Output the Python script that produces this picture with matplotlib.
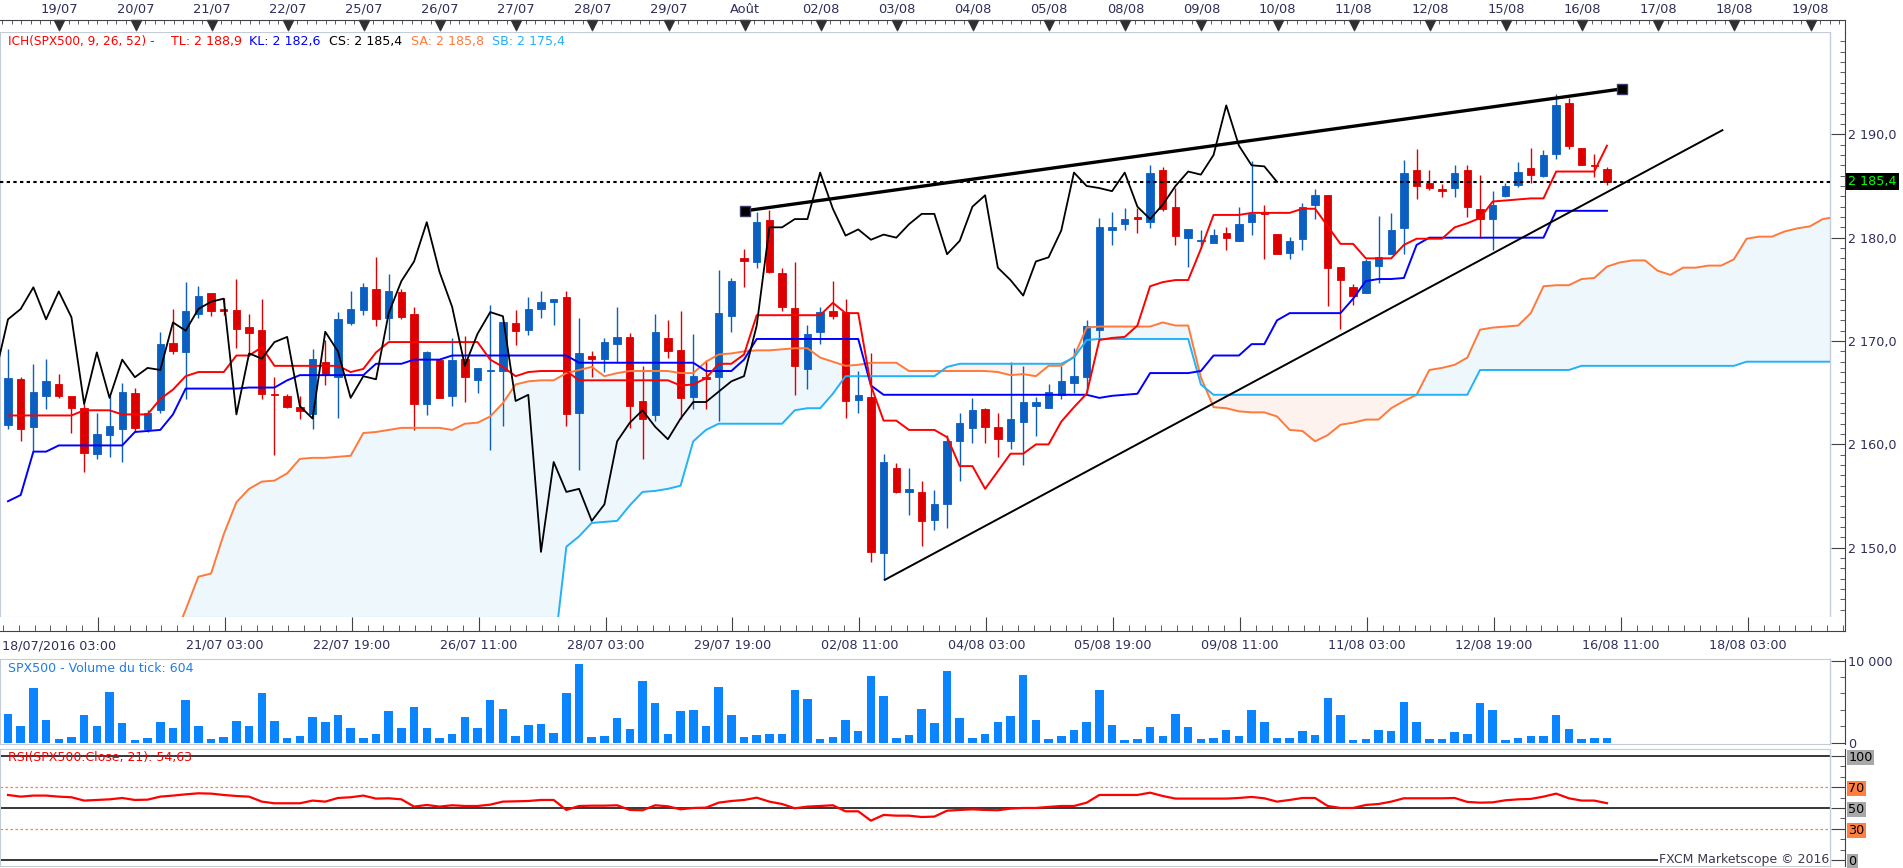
import numpy as np
import matplotlib
matplotlib.use("Agg")
import matplotlib.pyplot as plt
from matplotlib.ticker import MultipleLocator, FixedLocator, FuncFormatter

# SPX500, 4h candles, 18/07 -> 16/08/2016
opens = [2161.9, 2166.3, 2161.7, 2164.7, 2165.8, 2164.7, 2163.5, 2159.1, 2160.9, 2161.5,
         2165.0, 2161.5, 2163.3, 2169.8, 2168.9, 2172.6, 2174.6, 2173.1, 2173.0, 2171.4,
         2171.1, 2164.9, 2164.7, 2163.6, 2162.9, 2168.0, 2166.5, 2171.7, 2173.0, 2175.0,
         2172.2, 2174.7, 2172.6, 2163.9, 2168.2, 2164.7, 2168.3, 2166.2, 2167.1, 2167.1,
         2171.7, 2171.1, 2173.1, 2173.8, 2174.3, 2163.0, 2168.6, 2168.3, 2169.7, 2170.4,
         2164.2, 2162.8, 2170.3, 2169.1, 2164.6, 2166.5, 2166.5, 2172.4, 2178.0, 2177.6,
         2181.7, 2176.6, 2173.2, 2167.3, 2170.9, 2172.9, 2172.8, 2164.3, 2164.6, 2149.5,
         2157.7, 2155.4, 2155.4, 2152.7, 2154.2, 2160.3, 2161.6, 2163.4, 2161.7, 2160.3,
         2162.2, 2163.7, 2163.5, 2164.8, 2165.9, 2166.5, 2171.1, 2180.7, 2181.3, 2182.0,
         2181.5, 2186.5, 2183.0, 2180.0, 2179.7, 2179.5, 2180.5, 2179.7, 2181.5, 2182.4,
         2180.4, 2178.5, 2179.9, 2183.2, 2184.1, 2177.2, 2175.2, 2174.6, 2177.3, 2178.4,
         2180.9, 2186.5, 2185.3, 2184.7, 2184.8, 2186.5, 2182.8, 2181.8, 2184.0, 2185.1,
         2186.7, 2186.0, 2188.1, 2193.0, 2188.7, 2187.0, 2186.6]
highs = [2169.2, 2166.5, 2167.8, 2168.3, 2166.8, 2164.7, 2163.9, 2163.0, 2164.7, 2165.9,
         2165.5, 2163.3, 2170.9, 2173.1, 2175.7, 2175.3, 2174.6, 2174.2, 2176.0, 2172.6,
         2174.1, 2166.5, 2164.9, 2164.7, 2169.2, 2170.1, 2172.8, 2174.8, 2175.6, 2178.1,
         2176.5, 2175.0, 2173.3, 2169.0, 2168.2, 2170.3, 2170.5, 2167.4, 2173.5, 2171.8,
         2173.0, 2174.3, 2174.8, 2174.1, 2174.8, 2172.2, 2169.0, 2170.3, 2173.3, 2170.8,
         2167.6, 2172.6, 2172.0, 2172.9, 2170.7, 2168.2, 2176.9, 2176.1, 2178.9, 2182.5,
         2182.7, 2177.1, 2177.6, 2171.6, 2173.3, 2175.8, 2174.1, 2167.1, 2168.8, 2159.1,
         2158.2, 2157.7, 2156.5, 2155.6, 2160.9, 2163.0, 2164.5, 2163.5, 2163.0, 2168.0,
         2167.6, 2164.6, 2165.8, 2167.6, 2169.3, 2172.0, 2181.9, 2182.5, 2182.9, 2182.9,
         2187.0, 2186.8, 2184.8, 2180.8, 2180.7, 2180.8, 2181.0, 2183.0, 2187.4, 2183.2,
         2180.4, 2180.1, 2183.4, 2184.7, 2184.1, 2177.2, 2175.5, 2177.9, 2182.1, 2182.4,
         2187.5, 2188.6, 2186.5, 2185.2, 2187.0, 2187.0, 2186.1, 2184.5, 2185.3, 2187.3,
         2188.7, 2188.5, 2193.9, 2193.5, 2188.7, 2188.1, 2186.8]
lows = [2161.5, 2160.3, 2159.4, 2163.4, 2164.5, 2161.1, 2157.3, 2158.6, 2158.8, 2158.3,
        2161.2, 2161.2, 2163.0, 2168.7, 2164.4, 2172.2, 2172.4, 2172.5, 2169.3, 2168.6,
        2164.4, 2159.0, 2163.5, 2162.5, 2161.5, 2165.7, 2162.6, 2171.6, 2172.5, 2171.5,
        2170.1, 2172.1, 2161.4, 2162.8, 2164.5, 2163.7, 2164.1, 2165.0, 2159.5, 2161.8,
        2169.6, 2170.6, 2172.2, 2171.6, 2161.8, 2157.5, 2166.5, 2167.0, 2167.9, 2161.6,
        2158.6, 2162.3, 2168.4, 2162.5, 2163.4, 2163.4, 2162.3, 2170.9, 2175.2, 2177.1,
        2176.6, 2172.9, 2164.8, 2165.4, 2169.7, 2172.1, 2162.6, 2163.0, 2148.6, 2146.9,
        2155.3, 2153.2, 2150.2, 2151.7, 2151.9, 2156.5, 2160.1, 2160.1, 2158.8, 2159.6,
        2158.0, 2160.8, 2163.5, 2164.4, 2165.0, 2165.0, 2170.2, 2179.3, 2180.7, 2180.5,
        2180.9, 2182.6, 2179.3, 2177.2, 2179.1, 2179.5, 2178.8, 2179.7, 2180.3, 2177.9,
        2178.4, 2177.9, 2178.8, 2181.8, 2173.4, 2171.2, 2173.5, 2174.6, 2175.6, 2178.4,
        2178.4, 2183.7, 2184.6, 2183.9, 2183.9, 2182.0, 2180.0, 2178.8, 2183.9, 2184.9,
        2185.3, 2185.9, 2187.6, 2188.6, 2187.0, 2185.9, 2185.1]
closes = [2166.4, 2161.5, 2165.1, 2166.1, 2164.7, 2163.5, 2159.2, 2161.0, 2161.8, 2165.1,
          2161.6, 2163.0, 2169.7, 2169.0, 2172.9, 2174.4, 2172.9, 2172.9, 2171.2, 2170.8,
          2164.9, 2164.8, 2163.6, 2163.2, 2168.3, 2166.8, 2172.1, 2173.1, 2175.2, 2172.1,
          2174.8, 2172.3, 2163.9, 2168.9, 2164.5, 2168.2, 2166.5, 2167.4, 2167.2, 2171.8,
          2171.0, 2173.1, 2173.8, 2174.1, 2162.9, 2168.8, 2168.3, 2169.9, 2170.4, 2163.7,
          2162.5, 2170.9, 2169.0, 2164.5, 2166.6, 2166.3, 2172.7, 2175.8, 2177.7, 2181.5,
          2176.7, 2173.3, 2167.6, 2170.7, 2172.8, 2172.4, 2164.2, 2164.8, 2149.6, 2158.3,
          2155.4, 2155.7, 2152.6, 2154.2, 2160.3, 2162.1, 2163.3, 2161.7, 2160.5, 2162.5,
          2164.1, 2164.1, 2165.1, 2166.1, 2166.6, 2171.5, 2181.0, 2181.0, 2181.8, 2181.8,
          2186.3, 2182.8, 2180.2, 2180.8, 2179.8, 2180.3, 2180.0, 2181.3, 2182.3, 2182.3,
          2178.4, 2179.7, 2183.0, 2184.1, 2177.1, 2175.9, 2174.4, 2177.7, 2178.1, 2180.7,
          2186.3, 2185.0, 2184.8, 2184.5, 2186.3, 2183.0, 2181.8, 2183.2, 2185.0, 2186.4,
          2186.1, 2188.0, 2192.8, 2188.9, 2187.0, 2186.9, 2185.4]

# ichimoku lines as drawn (tenkan / kijun per candle)
tenkan = [2162.8, 2162.8, 2162.8, 2162.8, 2162.8, 2162.8, 2163.3, 2163.3, 2163.3, 2162.9,
          2162.9, 2162.9, 2164.4, 2165.3, 2166.6, 2167.0, 2167.0, 2167.0, 2168.6, 2168.6,
          2169.4, 2167.6, 2167.6, 2167.6, 2167.6, 2167.6, 2167.6, 2167.0, 2167.3, 2168.9,
          2169.9, 2169.9, 2169.9, 2169.9, 2169.9, 2169.9, 2169.9, 2169.9, 2168.2, 2167.5,
          2166.6, 2167.0, 2167.1, 2167.1, 2167.1, 2166.2, 2166.2, 2166.2, 2166.2, 2166.2,
          2166.2, 2166.2, 2166.2, 2165.7, 2165.8, 2166.4, 2167.8, 2167.8, 2168.7, 2172.5,
          2172.5, 2172.5, 2172.5, 2172.5, 2172.5, 2173.7, 2172.7, 2172.7, 2165.7, 2162.3,
          2162.3, 2161.4, 2161.4, 2161.4, 2160.7, 2157.9, 2157.9, 2155.7, 2157.4, 2159.1,
          2159.1, 2160.0, 2160.0, 2162.2, 2163.6, 2164.9, 2170.1, 2170.3, 2170.4, 2171.5,
          2175.3, 2175.7, 2175.9, 2175.9, 2178.9, 2182.2, 2182.2, 2182.2, 2182.4, 2182.4,
          2182.4, 2182.4, 2182.8, 2182.8, 2181.1, 2179.4, 2179.4, 2178.0, 2178.0, 2178.0,
          2179.3, 2179.9, 2179.9, 2179.9, 2181.0, 2181.4, 2181.9, 2183.5, 2183.6, 2183.7,
          2183.8, 2183.8, 2186.4, 2186.4, 2186.4, 2186.4, 2188.9]
kijun = [2154.5, 2155.1, 2159.3, 2159.3, 2159.9, 2159.9, 2159.9, 2159.9, 2159.9, 2159.9,
         2161.2, 2161.3, 2161.4, 2162.9, 2165.4, 2165.4, 2165.4, 2165.4, 2165.4, 2165.5,
         2165.5, 2165.5, 2166.2, 2166.7, 2166.7, 2166.7, 2166.7, 2166.7, 2166.7, 2167.8,
         2167.8, 2167.8, 2168.2, 2168.2, 2168.2, 2168.6, 2168.6, 2168.6, 2168.6, 2168.6,
         2168.6, 2168.6, 2168.6, 2168.6, 2168.6, 2167.9, 2167.9, 2167.9, 2167.9, 2167.9,
         2167.9, 2167.9, 2167.9, 2167.9, 2167.9, 2167.1, 2167.1, 2167.1, 2168.2, 2170.2,
         2170.2, 2170.2, 2170.2, 2170.2, 2170.2, 2170.2, 2170.2, 2170.2, 2165.7, 2164.8,
         2164.8, 2164.8, 2164.8, 2164.8, 2164.8, 2164.8, 2164.8, 2164.8, 2164.8, 2164.8,
         2164.8, 2164.8, 2164.8, 2164.8, 2164.8, 2164.8, 2164.5, 2164.7, 2164.8, 2164.9,
         2166.9, 2166.9, 2166.9, 2166.9, 2167.1, 2168.6, 2168.6, 2168.6, 2169.7, 2169.7,
         2172.0, 2172.7, 2172.7, 2172.7, 2172.7, 2172.7, 2174.1, 2175.8, 2176.0, 2176.0,
         2176.1, 2179.3, 2180.0, 2180.0, 2180.0, 2180.0, 2180.0, 2180.0, 2180.0, 2180.0,
         2180.0, 2180.0, 2182.6, 2182.6, 2182.6, 2182.6, 2182.6]
# senkou spans, already shifted 26 bars ahead (bars 0..144); 2136 = below the visible range
senkou_a = [2136.0, 2136.0, 2136.0, 2136.0, 2136.0, 2136.0, 2136.0, 2136.0, 2136.0, 2136.0,
            2136.0, 2136.0, 2136.0, 2141.0, 2144.0, 2147.2, 2147.5, 2151.3, 2154.4, 2155.7,
            2156.4, 2156.5, 2157.2, 2158.6, 2158.7, 2158.7, 2158.8, 2158.9, 2161.1, 2161.2,
            2161.4, 2161.6, 2161.6, 2161.6, 2161.6, 2161.4, 2162.0, 2162.1, 2162.7, 2164.0,
            2165.8, 2166.1, 2166.2, 2166.2, 2166.9, 2167.2, 2167.5, 2166.6, 2166.9, 2167.1,
            2167.1, 2167.1, 2167.1, 2166.9, 2166.9, 2168.0, 2168.7, 2168.8, 2169.0, 2169.1,
            2169.1, 2169.2, 2169.3, 2169.3, 2168.4, 2168.0, 2167.6, 2167.7, 2167.9, 2167.9,
            2167.9, 2167.1, 2167.1, 2167.1, 2167.1, 2167.1, 2167.1, 2167.1, 2167.0, 2166.7,
            2166.8, 2166.6, 2167.6, 2167.6, 2168.5, 2171.3, 2171.4, 2171.4, 2171.4, 2171.4,
            2171.4, 2171.8, 2171.5, 2171.5, 2166.5, 2163.6, 2163.5, 2163.2, 2163.1, 2163.1,
            2162.7, 2161.4, 2161.3, 2160.3, 2160.9, 2161.9, 2162.1, 2162.4, 2162.4, 2163.5,
            2164.2, 2164.8, 2167.2, 2167.4, 2167.7, 2168.4, 2171.1, 2171.3, 2171.4, 2171.5,
            2172.7, 2175.3, 2175.4, 2175.4, 2176.0, 2176.1, 2177.2, 2177.6, 2177.8, 2177.8,
            2176.8, 2176.4, 2177.1, 2177.1, 2177.3, 2177.3, 2177.9, 2179.9, 2180.1, 2180.1,
            2180.6, 2180.9, 2181.1, 2181.8, 2182.0]
senkou_b = [2136.0, 2136.0, 2136.0, 2136.0, 2136.0, 2136.0, 2136.0, 2136.0, 2136.0, 2136.0,
            2136.0, 2136.0, 2136.0, 2136.0, 2136.0, 2136.0, 2136.0, 2136.0, 2136.0, 2136.0,
            2136.0, 2136.0, 2136.0, 2136.0, 2136.0, 2136.0, 2136.0, 2136.0, 2136.0, 2136.0,
            2136.0, 2136.0, 2136.0, 2136.0, 2136.0, 2136.0, 2136.0, 2136.0, 2136.0, 2136.0,
            2136.0, 2136.0, 2136.0, 2139.5, 2150.1, 2151.1, 2152.4, 2152.5, 2152.6, 2154.1,
            2155.4, 2155.5, 2155.7, 2156.0, 2160.3, 2161.4, 2162.0, 2162.0, 2162.0, 2162.0,
            2162.0, 2162.0, 2163.3, 2163.5, 2163.5, 2164.9, 2166.6, 2166.6, 2166.6, 2166.6,
            2166.6, 2166.6, 2166.6, 2166.6, 2167.5, 2167.8, 2167.8, 2167.8, 2167.8, 2167.8,
            2167.8, 2167.8, 2167.8, 2167.8, 2168.4, 2170.1, 2170.2, 2170.2, 2170.2, 2170.2,
            2170.2, 2170.2, 2170.2, 2170.2, 2165.8, 2164.8, 2164.8, 2164.8, 2164.8, 2164.8,
            2164.8, 2164.8, 2164.8, 2164.8, 2164.8, 2164.8, 2164.8, 2164.8, 2164.8, 2164.8,
            2164.8, 2164.8, 2164.8, 2164.8, 2164.8, 2164.8, 2167.2, 2167.2, 2167.2, 2167.2,
            2167.2, 2167.2, 2167.2, 2167.2, 2167.6, 2167.6, 2167.6, 2167.6, 2167.6, 2167.6,
            2167.6, 2167.6, 2167.6, 2167.6, 2167.6, 2167.6, 2167.6, 2168.0, 2168.0, 2168.0,
            2168.0, 2168.0, 2168.0, 2168.0, 2168.0]

volumes = [3540, 2030, 6670, 2760, 450, 690, 3370, 2030, 6180, 2400,
           330, 570, 2520, 1790, 5200, 2030, 450, 690, 2640, 2030,
           6060, 2640, 570, 810, 3130, 2520, 3370, 1790, 570, 1060,
           3860, 1790, 4350, 1790, 570, 1060, 3130, 1790, 5200, 4110,
           810, 2150, 2280, 1180, 6060, 9590, 690, 810, 3010, 1670,
           7520, 4840, 1060, 3860, 3980, 2030, 6790, 3370, 690, 940,
           1060, 1060, 6420, 5330, 450, 690, 2760, 1420, 8130, 5690,
           570, 940, 4110, 2400, 8740, 3010, 570, 1060, 2520, 3250,
           8250, 2760, 450, 810, 1550, 2520, 6420, 2150, 330, 450,
           1910, 810, 3500, 1910, 450, 570, 1550, 810, 3980, 2520,
           570, 570, 1420, 940, 5450, 3370, 330, 450, 1550, 1420,
           4960, 2520, 450, 450, 1300, 1060, 4840, 3980, 330, 570,
           810, 810, 3370, 1670, 450, 570, 604]
rsi = [62.5, 60.9, 61.9, 61.9, 60.9, 60.3, 57.1, 57.7, 58.3, 59.6,
       57.7, 58.0, 60.9, 61.9, 63.1, 64.1, 63.8, 62.5, 61.5, 60.9,
       56.1, 54.5, 54.5, 54.5, 57.1, 56.1, 59.6, 60.3, 61.9, 59.0,
       59.3, 58.3, 51.3, 52.9, 51.3, 52.6, 51.9, 51.9, 53.2, 56.1,
       56.4, 56.7, 57.7, 57.7, 48.1, 51.9, 52.2, 52.2, 52.6, 48.1,
       47.8, 52.6, 51.6, 48.7, 50.0, 50.3, 55.1, 56.7, 57.7, 59.9,
       56.1, 53.8, 49.7, 51.3, 51.9, 52.6, 46.8, 46.8, 37.8, 43.3,
       42.6, 42.6, 41.3, 41.7, 47.4, 48.1, 48.7, 48.1, 47.8, 49.4,
       50.0, 50.0, 51.0, 51.9, 51.9, 55.1, 62.5, 62.5, 62.5, 62.5,
       64.7, 61.5, 59.0, 59.0, 59.0, 59.0, 59.0, 59.6, 60.6, 59.3,
       56.1, 57.7, 59.6, 59.6, 51.9, 50.0, 50.0, 52.9, 53.8, 56.1,
       59.3, 59.3, 59.3, 59.3, 59.6, 55.8, 55.1, 55.4, 57.4, 58.3,
       58.7, 60.9, 63.8, 59.3, 57.1, 57.1, 54.6]

top_days = ["19/07", "20/07", "21/07", "22/07", "25/07", "26/07", "27/07", "28/07",
            "29/07", "Août", "02/08", "03/08", "04/08", "05/08", "08/08", "09/08",
            "10/08", "11/08", "12/08", "15/08", "16/08", "17/08", "18/08", "19/08"]
bottom_labels = ["18/07/2016 03:00", "21/07 03:00", "22/07 19:00", "26/07 11:00",
                 "28/07 03:00", "29/07 19:00", "02/08 11:00", "04/08 03:00",
                 "05/08 19:00", "09/08 11:00", "11/08 03:00", "12/08 19:00",
                 "16/08 11:00", "18/08 03:00"]

# hand-drawn trend lines (bar index, price)
upper_trend_x = [58.1, 127.2]
upper_trend_y = [2182.6, 2194.4]
lower_trend_x = [69.1, 135.1]
lower_trend_y = [2146.9, 2190.4]
last_price = closes[-1]

# ---------------------------------------------------------------
W, H = 1903, 868
BAR0_PX, BAR_PX = 8.0, 12.69      # pixel of first candle, pixels per candle
DAY0, DAY_BARS = 4.05, 6.0        # first day marker (19/07), bars per day
BOT0 = 7.09                       # first labelled tick of bottom axis

BULL, BEAR = "#0a5fc0", "#dd0000"
TL_C, KL_C, SA_C, SB_C = "#ff0000", "#0000ff", "#ff7a3a", "#22b2f5"
CLOUD_UP, CLOUD_DN = "#eef7fc", "#fdf2ee"
BORDER, AXIS, TXT = "#c3ccd8", "#404048", "#2e2e5a"
VOL_C = "#0a84ff"

plt.rcParams["font.family"] = "DejaVu Sans"
plt.rcParams["font.size"] = 9.2

fig = plt.figure(figsize=(W / 100, H / 100), dpi=100)


def px2bar(px):
    return (px - BAR0_PX) / BAR_PX


def add_panel(x0, y0, x1, y1):
    ax = fig.add_axes([x0 / W, 1 - y1 / H, (x1 - x0) / W, (y1 - y0) / H])
    ax.set_xlim(px2bar(x0), px2bar(x1))
    return ax


def ftext(px, py, s, **kw):
    return fig.text(px / W, 1 - py / H, s, va="center", **kw)


def price_fmt(v, pos=None):
    return f"{v:,.1f}".replace(",", " ").replace(".", ",")


def style_panel(ax, major_len=10, minor_len=3.5):
    for side in ("left", "top", "bottom"):
        ax.spines[side].set_color(BORDER)
    ax.spines["right"].set_position(("outward", 10.8))
    ax.spines["right"].set_color(AXIS)
    ax.plot([1, 1], [0, 1], transform=ax.transAxes, color=BORDER, lw=1, clip_on=False)
    ax.tick_params(axis="x", which="both", bottom=False, labelbottom=False)
    ax.yaxis.tick_right()
    ax.tick_params(axis="y", which="both", direction="in", color=AXIS,
                   labelcolor=TXT, pad=2.5)
    ax.tick_params(axis="y", which="major", length=major_len)
    ax.tick_params(axis="y", which="minor", length=minor_len)


# ---- main price panel ----
ax = add_panel(0, 32, 1830, 617)
ax.set_ylim(2143.3, 2199.9)
style_panel(ax)
ax.yaxis.set_major_locator(MultipleLocator(10))
ax.yaxis.set_minor_locator(MultipleLocator(1))
ax.yaxis.set_major_formatter(FuncFormatter(price_fmt))

o, h, l, c = map(np.array, (opens, highs, lows, closes))
x = np.arange(len(c))
sa, sb = np.array(senkou_a), np.array(senkou_b)
xs = np.arange(len(sa))

ax.fill_between(xs, sa, sb, where=sa >= sb, interpolate=True, color=CLOUD_UP, lw=0, zorder=1)
ax.fill_between(xs, sa, sb, where=sa < sb, interpolate=True, color=CLOUD_DN, lw=0, zorder=1)

col = np.where(c >= o, BULL, BEAR)
ax.vlines(x, l, h, colors=col, lw=1.0, zorder=3)
ax.bar(x, np.abs(c - o), bottom=np.minimum(o, c), width=0.58, color=col,
       edgecolor=col, lw=0.6, zorder=3.5)

ax.plot(xs, sa, color=SA_C, lw=1.4, zorder=4)
ax.plot(xs, sb, color=SB_C, lw=1.4, zorder=4)
ax.plot(x, kijun, color=KL_C, lw=1.4, zorder=4.2)
ax.plot(x, tenkan, color=TL_C, lw=1.4, zorder=4.3)
# chikou span: close plotted 26 bars back
ax.plot(np.arange(-1, len(c) - 26), c[25:], color="black", lw=1.3, zorder=4.4)

ax.axhline(last_price, color="black", lw=1.5, ls=(0, (1.6, 1.6)), zorder=5)
ax.plot(upper_trend_x, upper_trend_y, color="black", lw=2.4, zorder=6)
ax.plot(upper_trend_x, upper_trend_y, "s", ms=6.5, mfc="black", mec="#3a3a66",
        mew=1, zorder=7)
ax.plot(lower_trend_x, lower_trend_y, color="black", lw=1.4, zorder=6)

ax.annotate(price_fmt(last_price), xy=(1, last_price), xycoords=("axes fraction", "data"),
            xytext=(13, 0), textcoords="offset points", va="center", ha="left",
            color="#00ff00", annotation_clip=False,
            bbox=dict(facecolor="black", edgecolor="none", pad=1.5))

legend_parts = [("ICH(SPX500, 9, 26, 52) -", 8, TL_C, 8.7),
                ("TL: " + price_fmt(tenkan[-1]), 171, TL_C, 9.1),
                ("KL: " + price_fmt(kijun[-1]), 249, KL_C, 9.1),
                ("CS: " + price_fmt(closes[-1]), 329, "black", 9.1),
                ("SA: 2 185,8", 411, SA_C, 9.1),
                ("SB: 2 175,4", 492, SB_C, 9.1)]
for s, px, colr, fs in legend_parts:
    ftext(px, 41, s, color=colr, fontsize=fs)

# ---- top date strip ----
ax_t = add_panel(0, 20, 1845, 32)
ax_t.set_ylim(0, 1)
ax_t.spines["left"].set_visible(False)
ax_t.spines["bottom"].set_visible(False)
ax_t.spines["top"].set_color(AXIS)
ax_t.spines["right"].set_color(AXIS)
ax_t.set_yticks([])
ax_t.xaxis.set_ticks_position("top")
day_pos = DAY0 + DAY_BARS * np.arange(len(top_days))
ax_t.set_xticks(day_pos, labels=top_days)
ax_t.xaxis.set_minor_locator(FixedLocator(np.arange(DAY0 - DAY_BARS, px2bar(1845), DAY_BARS / 8)))
ax_t.tick_params(axis="x", which="major", direction="in", length=8.6, color=BORDER,
                 labelcolor=TXT, pad=3.2, labelsize=9.4)
ax_t.tick_params(axis="x", which="minor", direction="in", length=3, color=AXIS)
ax_t.plot(day_pos, np.full(len(day_pos), 0.58), "v", ms=6.5, color="#303030", clip_on=False)

# ---- bottom date strip ----
ax_b = add_panel(0, 617, 1845, 631)
ax_b.set_ylim(0, 1)
ax_b.spines["left"].set_visible(False)
ax_b.spines["top"].set_visible(False)
ax_b.spines["bottom"].set_color(AXIS)
ax_b.spines["right"].set_color(AXIS)
ax_b.set_yticks([])
bot_pos = BOT0 + 10 * np.arange(len(bottom_labels))
ax_b.set_xticks(bot_pos, labels=[""] + bottom_labels[1:])
ax_b.xaxis.set_minor_locator(FixedLocator(np.arange(BOT0 - 10, px2bar(1845), 1.25)))
ax_b.tick_params(axis="x", which="major", direction="in", length=10, color=AXIS,
                 labelcolor=TXT, pad=5.5)
ax_b.tick_params(axis="x", which="minor", direction="in", length=4.3, color=AXIS)
ftext(2, 646, bottom_labels[0], color=TXT, ha="left")

# ---- volume panel ----
ax_v = add_panel(0, 659, 1830, 744)
ax_v.set_ylim(-159, 10207)
style_panel(ax_v)
ax_v.bar(x, volumes, width=0.67, color=VOL_C, zorder=2)
ax_v.set_yticks([0, 10000], labels=["0", "10 000"])
ax_v.yaxis.set_minor_locator(MultipleLocator(2000))
ftext(8, 668, f"SPX500 - Volume du tick: {volumes[-1]}", color="#1f7de6", ha="left",
      fontsize=9.0)

# ---- RSI panel ----
ax_r = add_panel(0, 749, 1830, 866)
ax_r.set_ylim(-5.8, 106.7)
style_panel(ax_r)
for lvl in (100, 50, 0):
    ax_r.axhline(lvl, color="black", lw=1.1, zorder=1)
for lvl in (70, 30):
    ax_r.axhline(lvl, color="#ff8040", lw=0.9, ls=(0, (2, 2)), zorder=1)
ax_r.plot(x, rsi, color="#ff0000", lw=1.6, zorder=3)
rsi_ticks = [0, 30, 50, 70, 100]
ax_r.set_yticks(rsi_ticks, labels=[str(v) for v in rsi_ticks])
ax_r.yaxis.set_minor_locator(MultipleLocator(10))
for tick, v in zip(ax_r.yaxis.get_major_ticks(), rsi_ticks):
    face = "#ff8040" if v in (30, 70) else "#a8a8a8"
    tick.label2.set_color("black")
    tick.label2.set_bbox(dict(facecolor=face, edgecolor="none", pad=0.8))
ftext(8, 758, "RSI(SPX500.Close, 21): 54,63", color="#ff0000", ha="left", fontsize=9.0)
ftext(1829, 859, "FXCM Marketscope © 2016", color="#3a3a50", ha="right", fontsize=9.0,
      bbox=dict(facecolor="white", edgecolor="none", pad=0.5))

fig.savefig("out.png", dpi=100, facecolor="white")
